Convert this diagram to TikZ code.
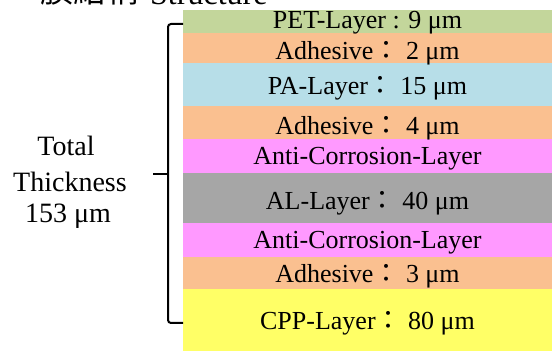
\documentclass[tikz,border=0pt]{standalone}
\usepackage{fontspec}
\setmainfont{Liberation Serif}
\newfontfamily\cjk{Noto Sans CJK TC}
\definecolor{petc}{RGB}{195,214,155}
\definecolor{adhc}{RGB}{250,192,144}
\definecolor{pac}{RGB}{183,222,232}
\definecolor{acc}{RGB}{255,153,255}
\definecolor{alc}{RGB}{166,166,166}
\definecolor{cppc}{RGB}{255,255,102}
\tikzset{
  layertxt/.style={anchor=base, inner sep=0pt, font=\fontsize{26}{30}\selectfont},
  tottxt/.style={anchor=base, inner sep=0pt, font=\fontsize{28}{32}\selectfont},
  bracel/.style={line width=2pt, rounded corners=3pt},
}
\newcommand{\fcolon}{{\cjk ：}}
\begin{document}
\begin{tikzpicture}[x=1pt,y=-1pt]
\useasboundingbox (0,0) rectangle (552,352);
% heading (cut off at the top)
\node[anchor=base west, inner sep=0pt, font=\fontsize{32}{36}\selectfont] (head) at (150,5) {Structure};
\node[anchor=base east, inner sep=0pt, font=\fontsize{33}{36}\selectfont\cjk] (headcn) at (140,3) {膜結構};
% layers
\fill[petc] (183,10) rectangle (552,33);
\fill[adhc] (183,33) rectangle (552,63);
\fill[pac]  (183,63) rectangle (552,106);
\fill[adhc] (183,106) rectangle (552,139);
\fill[acc]  (183,139) rectangle (552,173);
\fill[alc]  (183,173) rectangle (552,223);
\fill[acc]  (183,223) rectangle (552,257);
\fill[adhc] (183,257) rectangle (552,289);
\fill[cppc] (183,289) rectangle (552,351);
\node[layertxt] (l1) at (367.5,29) {PET-Layer : 9 μm};
\node[layertxt] (l2) at (367.5,60) {Adhesive\fcolon\ 2 μm};
\node[layertxt] (l3) at (367.5,95) {PA-Layer\fcolon\ 15 μm};
\node[layertxt] (l4) at (367.5,135) {Adhesive\fcolon\ 4 μm};
\node[layertxt] (l5) at (367.5,165) {Anti-Corrosion-Layer};
\node[layertxt] (l6) at (367.5,210) {AL-Layer\fcolon\ 40 μm};
\node[layertxt] (l7) at (367.5,249) {Anti-Corrosion-Layer};
\node[layertxt] (l8) at (367.5,283) {Adhesive\fcolon\ 3 μm};
\node[layertxt] (l9) at (367.5,330) {CPP-Layer\fcolon\ 80 μm};
% brace
\coordinate (bt) at (183,24);
\coordinate (bb) at (183,323);
\coordinate (bm) at (153,174);
\draw[bracel] (bt) -- (168,24) -- (168,323) -- (bb);
\draw[line width=2pt] (bm) -- (168,174);
% total thickness
\node[tottxt] (t1) at (66,156) {Total};
\node[tottxt] (t2) at (70,192) {Thickness};
\node[tottxt] (t3) at (68,223) {153 μm};
\end{tikzpicture}
\end{document}
